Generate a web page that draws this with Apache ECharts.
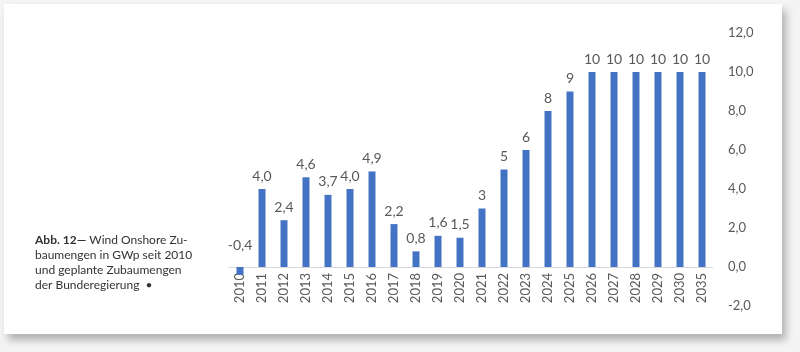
<!DOCTYPE html>
<html>
<head>
<meta charset="utf-8">
<script src="https://cdn.jsdelivr.net/npm/echarts@6/dist/echarts.min.js"></script>
<style>
  html, body { margin: 0; padding: 0; background: #f4f4f4; }
  .card {
    position: absolute; left: 4px; top: 4px; width: 778px; height: 330px;
    background: #fff; box-shadow: 4px 6px 8px rgba(0, 0, 0, 0.28);
  }
  #chart { position: absolute; left: 0; top: 0; width: 800px; height: 352px; }
</style>
</head>
<body>
<div class="card"></div>
<div id="chart"></div>
<script>
// Zubau Wind Onshore in GWp
const years = ["2010", "2011", "2012", "2013", "2014", "2015", "2016", "2017", "2018", "2019", "2020",
  "2021", "2022", "2023", "2024", "2025", "2026", "2027", "2028", "2029", "2030", "2035"]
const values = [-0.4, 4.0, 2.4, 4.6, 3.7, 4.0, 4.9, 2.2, 0.8, 1.6, 1.5,
  3, 5, 6, 8, 9, 10, 10, 10, 10, 10, 10]
const lastActualYear = 2020
const yTicks = { min: -2, max: 12, interval: 2 }

const comma = v => v.toFixed(1).replace(".", ",")

const chart = echarts.init(document.getElementById("chart"))

const option = {
  backgroundColor: "transparent",
  animation: false,
  textStyle: { fontFamily: "Lato" },
  grid: { left: 229, right: 87, top: 33, bottom: 46, outerBoundsMode: "none" },
  xAxis: [
    {
      // zero line
      type: "category",
      data: years,
      axisLine: { onZero: true, lineStyle: { color: "#d9d9d9" } },
      axisTick: { show: false },
      axisLabel: { show: false },
    },
    {
      // year labels right under the zero line
      type: "category",
      data: years,
      position: "bottom",
      offset: -39,
      axisLine: { show: false, onZero: false },
      axisTick: { show: false },
      axisLabel: { rotate: 90, color: "#595959", fontSize: 13, margin: 6, interval: 0 },
    },
  ],
  yAxis: {
    type: "value",
    position: "right",
    min: yTicks.min,
    max: yTicks.max,
    interval: yTicks.interval,
    splitLine: { show: false },
    axisLine: { show: false },
    axisLabel: { color: "#595959", fontSize: 13, margin: 15, formatter: comma },
  },
  series: [
    {
      type: "bar",
      xAxisIndex: 0,
      barWidth: 7,
      itemStyle: { color: "#4472C4" },
      label: {
        show: true,
        position: "top",
        distance: 6,
        color: "#595959",
        fontSize: 14,
        formatter: p => (Number(p.name) <= lastActualYear ? comma(p.value) : String(p.value)),
      },
      data: values.map(v => (v < 0 ? { value: v, label: { distance: 15 } } : v)),
    },
  ],
  graphic: [
    {
      type: "text",
      left: 35,
      top: 233,
      style: {
        text: "{b|Abb. 12—} Wind Onshore Zu-\nbaumengen in GWp seit 2010\nund geplante Zubaumengen\nder Bunderegierung  •",
        fontFamily: "Lato",
        fontSize: 12,
        lineHeight: 15,
        fill: "#333",
        rich: { b: { fontWeight: "bold", fontSize: 12, fontFamily: "Lato", fill: "#333", lineHeight: 15 } },
      },
    },
  ],
}

chart.setOption(option)
</script>
</body>
</html>
